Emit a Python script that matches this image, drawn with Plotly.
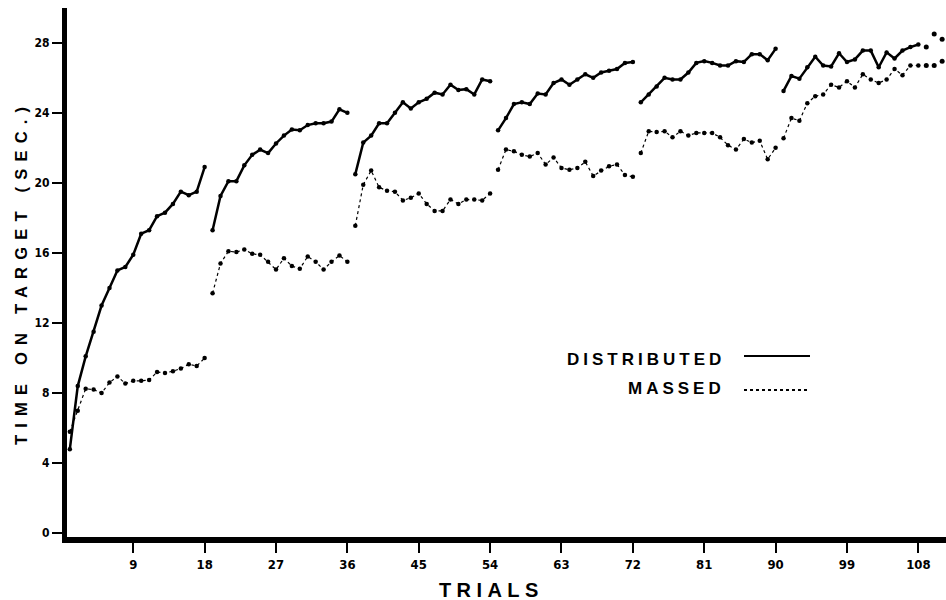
import plotly.graph_objects as go

# ---- data ----
block_len = 18
distributed_blocks = [
    [4.8, 8.4, 10.1, 11.5, 13.0, 14.0, 15.0, 15.2, 15.9, 17.1, 17.3, 18.1, 18.3, 18.8, 19.5, 19.3, 19.5, 20.9],
    [17.3, 19.25, 20.1, 20.1, 21.0, 21.6, 21.9, 21.7, 22.25, 22.7, 23.05, 23.0, 23.3, 23.4, 23.4, 23.5, 24.2, 24.0],
    [20.5, 22.3, 22.7, 23.4, 23.4, 24.0, 24.6, 24.25, 24.6, 24.8, 25.15, 25.05, 25.6, 25.3, 25.35, 25.05, 25.9, 25.8],
    [23.0, 23.7, 24.5, 24.6, 24.5, 25.1, 25.05, 25.7, 25.9, 25.6, 25.9, 26.2, 26.0, 26.3, 26.4, 26.5, 26.85, 26.9],
    [24.6, 25.05, 25.5, 26.0, 25.9, 25.9, 26.3, 26.85, 26.95, 26.85, 26.7, 26.7, 26.95, 26.9, 27.35, 27.35, 27.0, 27.65],
    [25.25, 26.1, 25.95, 26.6, 27.2, 26.7, 26.65, 27.4, 26.9, 27.05, 27.55, 27.55, 26.6, 27.45, 27.1, 27.55, 27.75, 27.9],
]
massed_blocks = [
    [5.8, 7.0, 8.25, 8.2, 8.0, 8.6, 8.95, 8.55, 8.7, 8.7, 8.75, 9.2, 9.15, 9.25, 9.4, 9.65, 9.55, 10.0],
    [13.7, 15.4, 16.1, 16.05, 16.2, 15.95, 15.9, 15.5, 15.05, 15.7, 15.25, 15.1, 15.8, 15.5, 15.05, 15.5, 15.85, 15.5],
    [17.55, 19.9, 20.7, 19.75, 19.55, 19.5, 19.0, 19.15, 19.4, 18.8, 18.4, 18.4, 19.05, 18.8, 19.05, 19.05, 19.0, 19.4],
    [20.75, 21.9, 21.8, 21.6, 21.5, 21.7, 21.05, 21.45, 20.85, 20.75, 20.85, 21.2, 20.4, 20.7, 20.95, 21.05, 20.45, 20.35],
    [21.7, 22.95, 22.9, 22.95, 22.6, 22.95, 22.7, 22.85, 22.85, 22.85, 22.6, 22.15, 21.9, 22.5, 22.3, 22.4, 21.35, 22.0],
    [22.55, 23.7, 23.55, 24.55, 24.95, 25.05, 25.6, 25.45, 25.8, 25.45, 26.2, 25.9, 25.7, 25.9, 26.5, 26.15, 26.7, 26.7],
]
extra_trials = [109, 110, 111]
distributed_extra = [27.75, 28.5, 28.2]
massed_extra = [26.7, 26.7, 26.95]

x_ticks = [9, 18, 27, 36, 45, 54, 63, 72, 81, 90, 99, 108]
y_ticks = [0, 4, 8, 12, 16, 20, 24, 28]

# ---- layout geometry ----
W, H = 946, 600
ML, MR, MT, MB = 67, 0, 8, 63
PW, PH = W - ML - MR, H - MT - MB

def px(x):
    return (x - ML) / PW

def py(y):
    return (H - MB - y) / PH

TITLE_FONT = "Liberation Sans, Arial, DejaVu Sans, sans-serif"
TICK_FONT = "Liberation Sans Narrow, DejaVu Sans Condensed, Liberation Sans, sans-serif"

fig = go.Figure()

for b, vals in enumerate(distributed_blocks):
    trials = [b * block_len + i + 1 for i in range(len(vals))]
    fig.add_trace(go.Scatter(
        x=trials, y=vals, mode="lines+markers", showlegend=False,
        line=dict(color="black", width=2.5),
        marker=dict(color="black", size=4.5),
        hoverinfo="skip"))

for b, vals in enumerate(massed_blocks):
    trials = [b * block_len + i + 1 for i in range(len(vals))]
    fig.add_trace(go.Scatter(
        x=trials, y=vals, mode="lines+markers", showlegend=False,
        line=dict(color="black", width=1.2, dash="dot"),
        marker=dict(color="black", size=4.5),
        hoverinfo="skip"))

fig.add_trace(go.Scatter(x=extra_trials, y=distributed_extra, mode="markers",
                         marker=dict(color="black", size=5), showlegend=False, hoverinfo="skip"))
fig.add_trace(go.Scatter(x=extra_trials, y=massed_extra, mode="markers",
                         marker=dict(color="black", size=5), showlegend=False, hoverinfo="skip"))

# x: trial 0 at pixel 61.9, 7.93 px per trial ; y: 0 at pixel 540.8, 17.77 px per unit
x0_px, x_scale = 61.9, 7.93
y0_px, y_scale = 540.8, 17.77
xr = [(ML - x0_px) / x_scale, (W - MR - x0_px) / x_scale]
yr = [-(y0_px - (H - MB)) / y_scale, (y0_px - MT) / y_scale]

fig.update_layout(
    width=W, height=H,
    margin=dict(l=ML, r=MR, t=MT, b=MB, pad=0),
    paper_bgcolor="white", plot_bgcolor="white",
    xaxis=dict(range=xr, tickvals=x_ticks, ticktext=["<b>%d</b>" % v for v in x_ticks],
               showgrid=False, zeroline=False, showline=True, linecolor="black", linewidth=6,
               ticks="outside", ticklen=10, tickwidth=1.5, tickcolor="black",
               tickfont=dict(family=TICK_FONT, size=13, color="black"),
               fixedrange=True),
    yaxis=dict(range=yr, tickvals=y_ticks, ticktext=["<b>%d</b>" % v for v in y_ticks],
               showgrid=False, zeroline=False, showline=True, linecolor="black", linewidth=5,
               ticks="outside", ticklen=10, tickwidth=1.5, tickcolor="black",
               tickfont=dict(family=TICK_FONT, size=12, color="black"),
               fixedrange=True),
)

def spaced(text, ls):
    return '<span style="letter-spacing:%spx">%s</span>' % (ls, text)

annotations = [
    dict(text=spaced("<b>TIME ON TARGET (SEC.)</b>", 7.2), x=px(21), y=py(273),
         xref="paper", yref="paper", showarrow=False, textangle=-90,
         xanchor="center", yanchor="middle",
         font=dict(family=TITLE_FONT, size=16.5, color="black")),
    dict(text=spaced("<b>TRIALS</b>", 5.4), x=px(491), y=py(589.5),
         xref="paper", yref="paper", showarrow=False,
         xanchor="center", yanchor="middle",
         font=dict(family=TITLE_FONT, size=20, color="black")),
    dict(text=spaced("<b>DISTRIBUTED</b>", 4), x=px(727), y=py(359.5),
         xref="paper", yref="paper", showarrow=False,
         xanchor="right", yanchor="middle",
         font=dict(family=TITLE_FONT, size=17, color="black")),
    dict(text=spaced("<b>MASSED</b>", 4), x=px(727), y=py(388.5),
         xref="paper", yref="paper", showarrow=False,
         xanchor="right", yanchor="middle",
         font=dict(family=TITLE_FONT, size=17, color="black")),
]
fig.update_layout(annotations=annotations)

shapes = [
    dict(type="line", xref="paper", yref="paper", x0=px(744), x1=px(810), y0=py(356), y1=py(356),
         line=dict(color="black", width=2.2)),
    dict(type="line", xref="paper", yref="paper", x0=px(744), x1=px(810), y0=py(390), y1=py(390),
         line=dict(color="black", width=2, dash="dot")),
]
fig.update_layout(shapes=shapes)

fig.write_html("out.html")
